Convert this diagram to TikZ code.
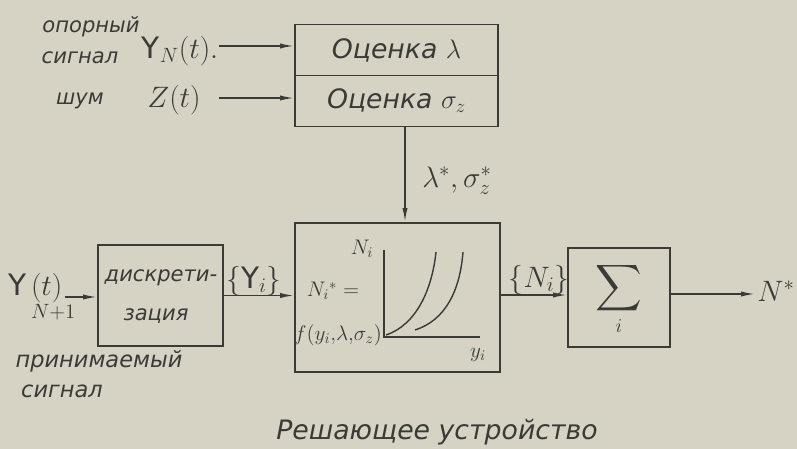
\RequirePackage{fix-cm}
\documentclass[tikz,border=0pt]{standalone}
\usepackage{fontspec}
\setmainfont{DejaVu Sans}
\usetikzlibrary{arrows.meta, positioning, calc}
\definecolor{paper}{HTML}{D6D3C5}
\definecolor{ink}{HTML}{3A3A38}

\begin{document}
\begin{tikzpicture}[x=0.25mm, y=-0.25mm,
    every node/.style={text=ink, font=\itshape\fontsize{15}{17}\selectfont},
    box/.style={draw=ink, line width=1.4pt, inner sep=0pt},
    big/.style={font=\itshape\fontsize{19}{21}\selectfont},
    sym/.style={font=\fontsize{21}{24}\selectfont, inner sep=1pt},
    arr/.style={-{Latex[length=3.5mm, width=1.3mm]}, draw=ink, line width=1.1pt},
    axis/.style={draw=ink, line width=1.4pt},
    curve/.style={draw=ink, line width=1pt}
]
    \fill[paper] (0,0) rectangle (797,449);
    \useasboundingbox (0,0) rectangle (797,449);

    % blocks
    \node[box, big, minimum width=5.075cm, minimum height=1.275cm] (est1) at (396.5,50) {Оценка $\lambda$};
    \node[box, big, minimum width=5.075cm, minimum height=1.275cm] (est2) at (396.5,101) {Оценка $\sigma_z$};
    \node[box, minimum width=5.125cm, minimum height=3.725cm] (dec) at (397.5,297.5) {};
    \node[box, minimum width=3.125cm, minimum height=2.525cm] (disc) at (160.5,295.5) {};
    \node[box, minimum width=2.55cm, minimum height=2.475cm, align=center, font=\fontsize{14}{14}\selectfont] (sum) at (619,297.5)
        {\scalebox{2.3}{$\displaystyle\sum$}\\[3pt]$i$};

    % inputs
    \node (ref1) at (91,27) {опорный};
    \node (ref2) at (80,58) {сигнал};
    \node[sym] (yn) at (180,51) {$\mathrm{Y}_{N}(t).$};
    \node (noise) at (80,101) {шум};
    \node[sym] (zt) at (174,100) {$Z(t)$};
    \node[sym] (yin) at (42,297) {$\mathrm{Y}\,\rlap{$(t)$}_{\raisebox{-0.5em}{$\scriptstyle N+1$}}$};
    \node[font=\itshape\fontsize{16}{18}\selectfont] (rec1) at (99,361) {принимаемый};
    \node[font=\itshape\fontsize{16}{18}\selectfont] (rec2) at (62,391) {сигнал};

    % text in blocks
    \node (disc1) at (161,278) {дискрети-};
    \node (disc2) at (156,316) {зация};
    \node (ni) at (362,249) {$N_i$};
    \node (fn1) at (333,291) {$N_i{}^{*}=$};
    \node (fn2) at (338,335) {$f(y_i,\!\lambda,\!\sigma_z)$};
    \node (yi) at (478,355) {$y_i$};

    % labels on connectors
    \node[sym] (lam) at (457,181) {$\lambda^{*}, \sigma_z^{*}$};
    \node[sym] (yset) at (254,281) {$\{\mathrm{Y}_i\}$};
    \node[sym] (nset) at (539,280) {$\{N_i\}$};
    \node[sym] (nout) at (776,291) {$N^{*}$};
    \node[big] (cap) at (437,432) {Решающее устройство};

    % connectors
    \coordinate (a1) at (219,46);
    \coordinate (a2) at (219,98);
    \coordinate (a3) at (65,297);
    \coordinate (v1) at (405,127);
    \coordinate (out) at (755,294);
    \draw[arr] (a1) -- (a1 -| est1.west);
    \draw[arr] (a2) -- (a2 -| est2.west);
    \draw[arr] (v1) -- (v1 |- dec.north);
    \draw[arr] (a3) -- (a3 -| disc.west);
    \draw[arr] (disc.east) -- (disc.east -| dec.west);
    \draw[arr] (dec.east |- 0,295) -- (sum.west |- 0,295);
    \draw[arr] (sum.east |- out) -- (out);

    % graph
    \draw[axis] (384,250) -- (384,337) -- (480,337);
    \draw[curve] (386,335) .. controls (416,325) and (432,290) .. (436,252);
    \draw[curve] (415,330) .. controls (446,320) and (460,290) .. (463,252);
\end{tikzpicture}
\end{document}
